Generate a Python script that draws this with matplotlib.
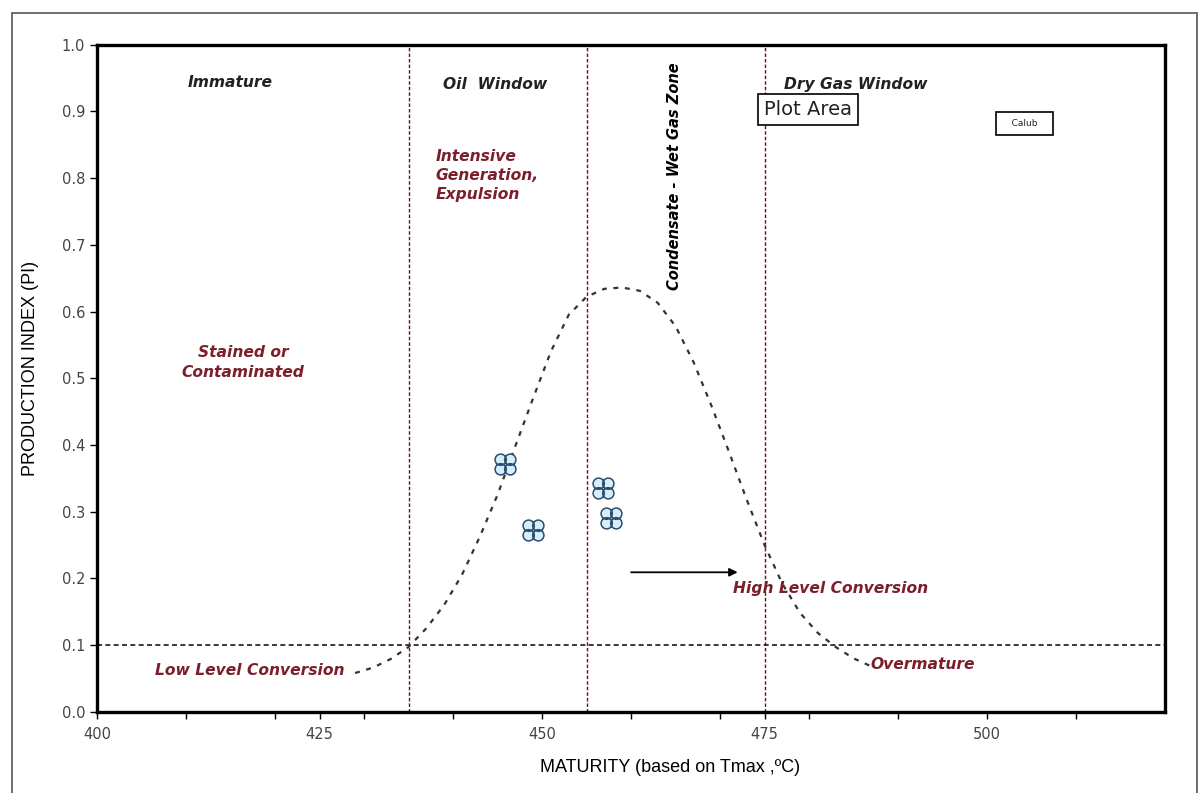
import matplotlib
matplotlib.use("Agg")
import matplotlib.pyplot as plt
from matplotlib.path import Path
from matplotlib.patches import Rectangle

# curve
curve_x = [429, 431, 433, 435, 437, 439, 441, 443, 445, 447, 449, 451, 453, 455,
           457, 459, 461, 463, 465, 467, 469, 471, 473, 475, 477, 479, 481, 483, 485, 487]
curve_y = [0.058, 0.066, 0.079, 0.097, 0.125, 0.160, 0.205, 0.262, 0.325, 0.398, 0.470,
           0.540, 0.595, 0.622, 0.634, 0.636, 0.631, 0.613, 0.578, 0.525, 0.460, 0.390,
           0.318, 0.250, 0.192, 0.148, 0.118, 0.097, 0.080, 0.068]

# samples
tmax = [445.8, 449.0, 456.9, 457.8]
pi = [0.372, 0.272, 0.335, 0.290]

zone_lines = [435, 455, 475]
pi_line = 0.1
xticks = [400, 425, 450, 475, 500]
xminor = [410, 420, 430, 440, 460, 470, 480, 490, 510]
yticks = [0.0, 0.1, 0.2, 0.3, 0.4, 0.5, 0.6, 0.7, 0.8, 0.9, 1.0]

red = '#7a1f2b'

fig = plt.figure(figsize=(12.01, 7.93), dpi=100)
ax = fig.add_axes([97/1201, 1 - 711.7/793, (1165-97)/1201, (711.7-44.7)/793])

# outer chart frame
fig.patches.append(Rectangle((12/1201, -0.01), (1197-12)/1201, (793-13)/793 + 0.01,
                             transform=fig.transFigure, fill=False,
                             edgecolor='#555555', lw=1.2))

for x in zone_lines:
    ax.axvline(x, color='#6b1010', lw=1.0, ls=(0, (2.5, 1.5)), zorder=2)
ax.axhline(pi_line, color='#2a1010', lw=1.2, ls=(0, (3, 2)), zorder=2)

ax.plot(curve_x, curve_y, color='#333333', lw=1.6, ls=(0, (2.2, 3)), zorder=3)

circles = [Path.circle((dx, dy), 0.42) for dx, dy in [(-0.36, -0.36), (0.36, -0.36), (-0.36, 0.36), (0.36, 0.36)]]
clover = Path.make_compound_path(*circles)
ax.plot(tmax, pi, ls='none', marker=clover, markersize=15, markerfacecolor='#d5eef8',
        markeredgecolor='#2c4d70', markeredgewidth=1.1, zorder=4)

ax.annotate('', xy=(472.3, 0.209), xytext=(459.7, 0.209),
            arrowprops=dict(arrowstyle='-|>', color='black', lw=1.3, mutation_scale=12))

bi = dict(fontsize=11.2, fontweight='bold', fontstyle='italic')
ax.text(415.0, 0.944, 'Immature', ha='center', va='center', color='#222222', **bi)
ax.text(444.7, 0.941, 'Oil  Window', ha='center', va='center', color='#222222', **bi)
ax.text(485.2, 0.941, 'Dry Gas Window', ha='center', va='center', color='#222222', **bi)
ax.text(438.0, 0.804, 'Intensive\nGeneration,\nExpulsion', ha='left', va='center',
        color=red, linespacing=1.3, **bi)
ax.text(464.9, 0.803, 'Condensate - Wet Gas Zone', ha='center', va='center', rotation=90,
        color='black', fontsize=10.5, fontweight='bold', fontstyle='italic')
ax.text(416.4, 0.524, 'Stained or\nContaminated', ha='center', va='center',
        color=red, linespacing=1.4, **bi)
ax.text(417.2, 0.062, 'Low Level Conversion', ha='center', va='center', color=red, **bi)
ax.text(482.4, 0.185, 'High Level Conversion', ha='center', va='center', color=red, **bi)
ax.text(492.8, 0.071, 'Overmature', ha='center', va='center', color=red, **bi)

ax.text(479.9, 0.903, 'Plot Area', ha='center', va='center', fontsize=14, color='#222222',
        bbox=dict(boxstyle='square,pad=0.3', facecolor='white', edgecolor='black', lw=1.2),
        zorder=6)
ax.text(504.2, 0.882, '   Calub   ', ha='center', va='center', fontsize=6.5, color='#222222',
        bbox=dict(boxstyle='square,pad=0.8', facecolor='white', edgecolor='black', lw=1.2),
        zorder=6)

ax.set_xlim(400, 520)
ax.set_ylim(0, 1.0)
ax.set_xticks(xticks)
ax.set_xticks(xminor, minor=True)
ax.set_yticks(yticks)
ax.set_yticklabels([f'{v:.1f}' for v in yticks])
ax.tick_params(axis='both', which='both', direction='out', length=5, width=1,
               labelsize=10.5, labelcolor='#444444')
ax.tick_params(axis='x', pad=6)
for s in ax.spines.values():
    s.set_linewidth(2.4)

ax.set_xlabel('MATURITY (based on Tmax ,ºC)', fontsize=13, family='Liberation Sans',
              va='center')
ax.set_ylabel('PRODUCTION INDEX (PI)', fontsize=13, family='Liberation Sans',
              va='center')
ax.xaxis.set_label_coords((670 - 97) / 1068, (711.7 - 768) / 667)
ax.yaxis.set_label_coords((30 - 97) / 1068, (711.7 - 368) / 667)

fig.savefig('out.png', dpi=100)
